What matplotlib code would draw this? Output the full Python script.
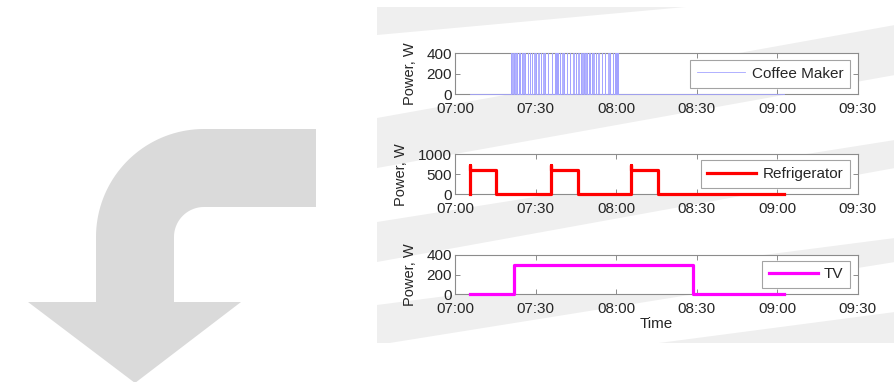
import numpy as np
import matplotlib.pyplot as plt
from matplotlib.patches import Polygon, Rectangle

plt.rcParams['font.family'] = ['Liberation Sans', 'DejaVu Sans']

# time axis in minutes after 07:00
tick_pos = [0, 30, 60, 90, 120, 150]
tick_labels = ["07:00", "07:30", "08:00", "08:30", "09:00", "09:30"]
t_start, t_end = 5.3, 122.5

# coffee maker: switching pulses (start minute of each pulse)
coffee_on = [20.8, 21.3, 21.9, 22.4, 23.0, 23.6, 24.1, 24.7, 25.4, 26.0,
             27.0, 27.9, 28.5, 29.5, 30.1, 30.9, 32.0, 32.8, 33.4, 34.4,
             35.9, 37.2, 37.5, 37.9, 38.3, 39.0, 39.9, 40.5, 41.5, 42.8,
             44.0, 45.0, 45.9, 46.9, 47.4, 48.0, 48.5, 49.1, 49.7, 50.2,
             50.8, 51.4, 52.5, 53.3, 54.6, 55.8, 57.0, 57.7, 58.7, 59.5,
             59.9, 60.3, 60.6]
coffee_width = 0.12
coffee_level = 400

# refrigerator compressor cycles
fridge_on = [5.5, 35.6, 65.6]
fridge_off = [15.3, 45.8, 75.7]
fridge_level = 600
fridge_spike = 730

# TV
tv_on, tv_off, tv_level = 21.9, 88.75, 300


def coffee_series():
    t, y = [t_start], [0]
    for s in coffee_on:
        t += [s, s, s + coffee_width, s + coffee_width]
        y += [0, coffee_level, coffee_level, 0]
    t.append(t_end)
    y.append(0)
    return t, y


def fridge_series():
    t, y = [t_start], [0]
    for on, off in zip(fridge_on, fridge_off):
        t += [on, on, on, off, off]
        y += [0, fridge_spike, fridge_level, fridge_level, 0]
    t.append(t_end)
    y.append(0)
    return t, y


def tv_series():
    t = [t_start, tv_on, tv_on, tv_off, tv_off, t_end]
    y = [0, 0, tv_level, tv_level, 0, 0]
    return t, y


W, H = 895, 382
fig = plt.figure(figsize=(W / 100, H / 100), dpi=100)

# background layer in pixel coordinates
bg = fig.add_axes([0, 0, 1, 1], zorder=-1)
bg.set_xlim(0, W)
bg.set_ylim(H, 0)
bg.axis("off")

# curved arrow on the left
R, r, cx, cy = 108, 30, 204, 237
a1 = np.linspace(np.pi / 2, np.pi, 40)
outer = [(cx + R * np.cos(a), cy - R * np.sin(a)) for a in a1]
inner = [(cx + r * np.cos(a), cy - r * np.sin(a)) for a in a1[::-1]]
arrow = ([(316, 129)] + outer + [(96, 302), (28, 302), (135, 383), (241, 302), (174, 302)]
         + inner + [(316, 207)])
bg.add_patch(Polygon(arrow, closed=True, facecolor="#dadada", edgecolor="none"))

# striped panel behind the charts
px0, py0, px1, py1 = 377, 7, W, 343
panel = Rectangle((px0, py0), px1 - px0, py1 - py0, facecolor="#efefef", edgecolor="none")
bg.add_patch(panel)
stripes = [((35, -12), (118, 25)),
           ((168, 75), (222, 140)),
           ((262, 168), (305, 238)),
           ((345, 262), (380, 312))]
for (u0, u1), (l0, l1) in stripes:
    p = Polygon([(px0, u0), (px1, u1), (px1, l1), (px0, l0)], closed=True,
                facecolor="white", edgecolor="none")
    bg.add_patch(p)
    p.set_clip_path(panel)

txt = "#262626"
spine = "#8c8c8c"
positions = [[455.3 / W, 1 - 94 / H, 402.4 / W, 40.7 / H],
             [455.3 / W, 1 - 194.3 / H, 402.4 / W, 40 / H],
             [455.3 / W, 1 - 294 / H, 402.4 / W, 39 / H]]
series = [coffee_series(), fridge_series(), tv_series()]
names = ["Coffee Maker", "Refrigerator", "TV"]
colors = ["#a4a4ff", "#ff0000", "#ff00ff"]
widths = [0.6, 2.3, 2.3]
yticks = [[0, 200, 400], [0, 500, 1000], [0, 200, 400]]

for i in range(3):
    ax = fig.add_axes(positions[i])
    ax.set_facecolor("white")
    t, y = series[i]
    ax.plot(t, y, color=colors[i], lw=widths[i], label=names[i], clip_on=False, zorder=3)
    ax.set_xlim(0, 150)
    ax.set_ylim(0, yticks[i][-1])
    ax.set_xticks(tick_pos)
    ax.set_xticklabels(tick_labels)
    ax.set_yticks(yticks[i])
    ax.tick_params(direction="in", length=3.5, width=0.7, color=spine, top=True, right=True,
                   labelsize=11, labelcolor=txt)
    ax.tick_params(axis="x", pad=5.5)
    ax.tick_params(axis="y", pad=2.5)
    for s in ax.spines.values():
        s.set_color(spine)
        s.set_linewidth(0.8)
    ax.set_ylabel("Power, W", fontsize=10.5, color=txt, labelpad=7)
    leg = ax.legend(loc="center right", fontsize=11, handlelength=3.2, frameon=True,
                    fancybox=False, borderaxespad=0.5, borderpad=0.45, handletextpad=0.4)
    leg.get_frame().set_edgecolor(spine)
    leg.get_frame().set_linewidth(0.8)
    for tx in leg.get_texts():
        tx.set_color(txt)
    if i == 2:
        ax.set_xlabel("Time", fontsize=11, color=txt, labelpad=1)

fig.savefig("out.png", dpi=100)
